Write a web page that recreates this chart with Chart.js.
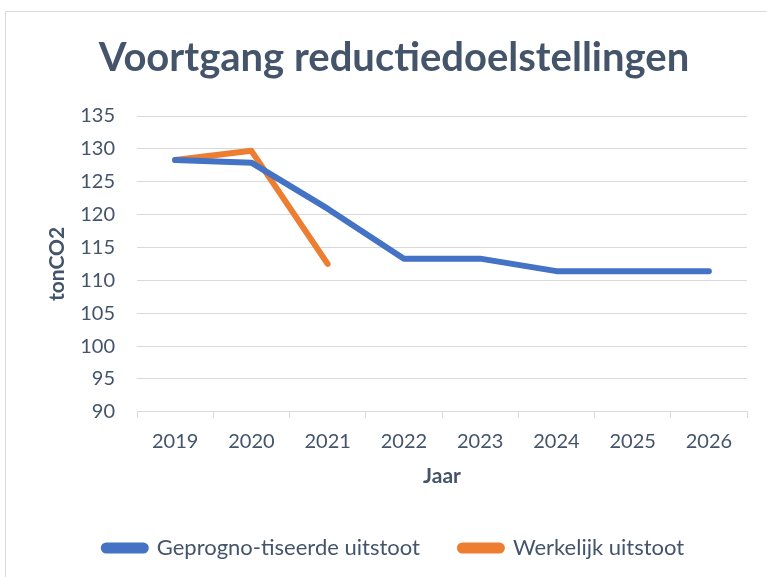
<!DOCTYPE html>
<html><head><meta charset="UTF-8">
<title>Voortgang reductiedoelstellingen</title>
<script src="https://cdn.jsdelivr.net/npm/chart.js"></script>
<style>
  html,body{margin:0;padding:0;background:#fff}
  #wrap{position:relative;width:767px;height:577px}
  #frame{position:absolute;left:5px;top:11px;width:780px;height:600px;border:1px solid #d9d9d9}
  canvas{position:absolute;left:0;top:0}
</style>
</head><body>
<div id="wrap"><div id="frame"></div><canvas id="chart" width="767" height="577"></canvas></div>
<script>
  const years = ["2019","2020","2021","2022","2023","2024","2025","2026"];
  const prognose = [128.3, 127.9, 120.9, 113.3, 113.3, 111.4, 111.4, 111.4];
  const werkelijk = [128.3, 129.7, 112.5, null, null, null, null, null];
  const yMin = 90, yMax = 135, yStep = 5;

  const txt = "#44546a";
  const font = "Lato, 'Open Sans', sans-serif";

  new Chart(document.getElementById("chart"), {
    type: "line",
    data: {
      labels: years,
      datasets: [
        {label: "Geprogno-tiseerde uitstoot", data: prognose, borderColor: "#4472c4", backgroundColor: "#4472c4",
         borderWidth: 6, pointRadius: 0, tension: 0, borderCapStyle: "round", borderJoinStyle: "round"},
        {label: "Werkelijk uitstoot", data: werkelijk, borderColor: "#ed7d31", backgroundColor: "#ed7d31",
         borderWidth: 6, pointRadius: 0, tension: 0, borderCapStyle: "round", borderJoinStyle: "round"}
      ]
    },
    options: {
      responsive: false,
      animation: false,
      layout: {padding: {left: 41, right: 20, top: 0, bottom: 8}},
      plugins: {
        title: {display: true, text: "Voortgang reductiedoelstellingen", color: txt,
                font: {family: font, size: 40, weight: "bold"}, padding: {top: 34, bottom: 34}},
        legend: {position: "bottom",
                 labels: {color: txt, font: {family: font, size: 22}, boxWidth: 42, boxHeight: 5,
                          useBorderRadius: true, borderRadius: 2.5, padding: 40}},
        tooltip: {enabled: false}
      },
      scales: {
        x: {
          offset: true,
          afterFit: (s) => { s.height = s.height - 4; },
          grid: {display: true, offset: true, drawOnChartArea: false, tickLength: 6, color: "#d9d9d9"},
          border: {color: "#d9d9d9"},
          ticks: {color: txt, font: {family: font, size: 20}, padding: 12},
          title: {display: true, text: "Jaar", color: txt, font: {family: font, size: 21, weight: "bold"}, padding: {top: 2, bottom: 8}}
        },
        y: {
          min: yMin, max: yMax,
          afterFit: (s) => { s.width = 96; },
          grid: {color: "#d9d9d9", drawTicks: false},
          border: {display: false},
          ticks: {stepSize: yStep, color: txt, font: {family: font, size: 20}, padding: 22},
          title: {display: true, text: "tonCO2", color: txt, font: {family: font, size: 21, weight: "bold"}, padding: {bottom: 4}}
        }
      }
    }
  });
</script>
</body></html>
